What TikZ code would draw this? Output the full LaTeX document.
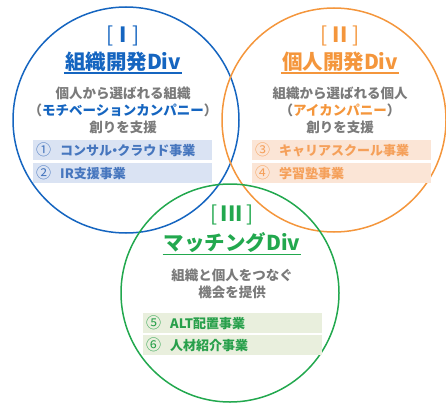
\documentclass[tikz,border=0pt]{standalone}
\usepackage{fontspec}
\setmainfont{Noto Sans CJK JP}
\usepackage{tikz}
\definecolor{divblue}{RGB}{21,101,192}
\definecolor{divorange}{RGB}{244,150,60}
\definecolor{divgreen}{RGB}{34,168,78}
\definecolor{descgray}{RGB}{122,122,122}
\definecolor{boxblue}{RGB}{218,227,243}
\definecolor{boxorange}{RGB}{251,229,214}
\definecolor{boxgreen}{RGB}{233,239,221}
\definecolor{itemblue}{RGB}{70,118,190}
\definecolor{itemorange}{RGB}{245,160,90}
\definecolor{itemgreen}{RGB}{40,160,75}
\tikzstyle{ring} = [draw,circle,line width=1.5pt,inner sep=0]
\tikzstyle{numlabel} = [inner sep=1,font=\fontsize{21}{23}\selectfont\bfseries]
\tikzstyle{divtitle} = [inner sep=1,font=\fontsize{20.5}{22}\selectfont\bfseries]
\tikzstyle{desc} = [align=center,inner sep=1,text=descgray,font=\fontsize{13.5}{17}\selectfont\bfseries]
\tikzstyle{item} = [anchor=west,minimum width=179,minimum height=20,inner sep=3,text width=173,
  font=\fontsize{13}{15}\selectfont\bfseries]
\newcommand{\circnum}[1]{{\fontsize{15}{15}\selectfont\mdseries #1}\hspace{9pt}}
\newcommand{\brk}[2]{{\mdseries[}\hspace{#2}#1\hspace{#2}{\mdseries]}}

\begin{document}
\begin{tikzpicture}[x=1pt,y=-1pt]
    \useasboundingbox (0,0) rectangle (446,404);

    \node[ring, draw=divblue, minimum size=226] (ringI) at (126,120) {};
    \node[ring, draw=divorange, minimum size=224] (ringII) at (334,120) {};
    \node[ring, draw=divgreen, minimum size=218] (ringIII) at (230,293) {};

    % I
    \node[numlabel, text=divblue] (numI) at (123,36) {\brk{I}{6pt}};
    \node[divtitle, text=divblue] (titleI) at (123,62) {組織開発Div};
    \draw[divblue, line width=1.2pt] (titleI.south west) -- (titleI.south east);
    \node[desc] (descI) at (123,110) {個人から選ばれる組織\\（\textcolor{divblue}{モチベーションカンパニー}）\\創りを支援};
    \node[item, fill=boxblue, text=itemblue] (itemA) at (33,150) {\circnum{①}コンサル\hspace{-0.3em}・\hspace{-0.3em}クラウド事業};
    \node[item, fill=boxblue, text=itemblue] (itemB) at (33,173) {\circnum{②}IR支援事業};

    % II
    \node[numlabel, text=divorange] (numII) at (340,36) {\brk{II}{5pt}};
    \node[divtitle, text=divorange] (titleII) at (340,62) {個人開発Div};
    \draw[divorange, line width=1.2pt] (titleII.south west) -- (titleII.south east);
    \node[desc] (descII) at (340,110) {組織から選ばれる個人\\（\textcolor{divorange}{アイカンパニー}）\\創りを支援};
    \node[item, fill=boxorange, text=itemorange] (itemC) at (252,150) {\circnum{③}キャリアスクール事業};
    \node[item, fill=boxorange, text=itemorange] (itemD) at (252,173) {\circnum{④}学習塾事業};

    % III
    \node[numlabel, text=divgreen] (numIII) at (232,215) {\brk{III}{3pt}};
    \node[divtitle, text=divgreen] (titleIII) at (232,243) {マッチングDiv};
    \draw[divgreen, line width=1.2pt] (titleIII.south west) -- (titleIII.south east);
    \node[desc] (descIII) at (232,284) {組織と個人をつなぐ\\機会を提供};
    \node[item, fill=boxgreen, text=itemgreen] (itemE) at (143,323) {\circnum{⑤}ALT配置事業};
    \node[item, fill=boxgreen, text=itemgreen] (itemF) at (143,345) {\circnum{⑥}人材紹介事業};

\end{tikzpicture}
\end{document}
